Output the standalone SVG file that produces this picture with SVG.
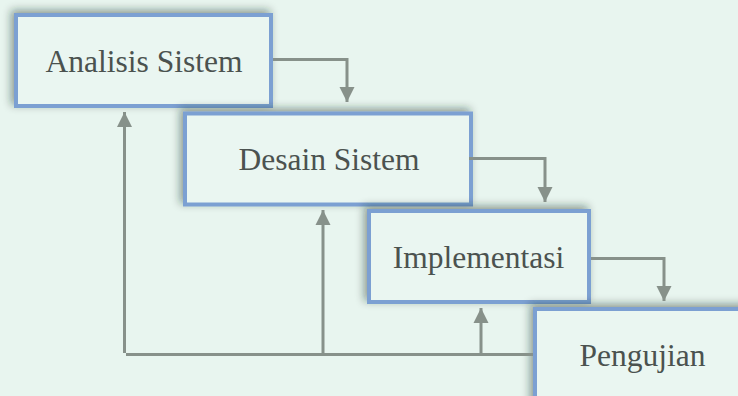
<svg xmlns="http://www.w3.org/2000/svg" width="738" height="396" viewBox="0 0 738 396">
  <defs>
    <filter id="soft-shadow" x="-15%" y="-30%" width="130%" height="160%">
      <feDropShadow dx="-3" dy="-3" stdDeviation="4.5" flood-color="#1e2a24" flood-opacity="0.45"/>
    </filter>
    <marker id="arrow" markerUnits="userSpaceOnUse" markerWidth="16" markerHeight="16" viewBox="0 0 16 16" refX="15" refY="8" orient="auto">
      <path d="M0,0.5 L15,8 L0,15.5 Z" fill="#87918a"/>
    </marker>
  </defs>
  <style>
    .box rect { fill: #eaf6f1; stroke: #7ca0d2; stroke-width: 4; filter: url(#soft-shadow); }
    .box text { font-family: "Liberation Serif", "Times New Roman", serif; font-size: 31.5px; fill: #4b524f; text-anchor: middle; }
    .link { fill: none; stroke: #87918a; stroke-width: 3; }
  </style>

  <!-- page background -->
  <rect x="0" y="0" width="738" height="396" fill="#e8f5ef"/>

  <!-- process stages, stepped like a waterfall -->
  <g id="analisis-sistem" class="box">
    <rect x="16" y="15" width="255" height="91"/>
    <text x="144" y="72">Analisis Sistem</text>
  </g>
  <g id="desain-sistem" class="box">
    <rect x="185" y="113.5" width="286" height="91"/>
    <text x="329" y="170">Desain Sistem</text>
  </g>
  <g id="implementasi" class="box">
    <rect x="369" y="211" width="220" height="91"/>
    <text x="478.5" y="268">Implementasi</text>
  </g>
  <g id="pengujian" class="box">
    <rect x="535" y="309" width="215" height="100"/>
    <text x="642.5" y="366">Pengujian</text>
  </g>

  <!-- connectors: forward steps and the feedback bus -->
  <g id="connectors">
    <path class="link" d="M273,59.5 H347 V102" marker-end="url(#arrow)"/>
    <path class="link" d="M469,158.5 H545 V202" marker-end="url(#arrow)"/>
    <path class="link" d="M591,258.5 H664 V301" marker-end="url(#arrow)"/>

    <path class="link" d="M533,354.5 H126"/>
    <path class="link" d="M124.5,353 V112" marker-end="url(#arrow)"/>
    <path class="link" d="M323,354 V210" marker-end="url(#arrow)"/>
    <path class="link" d="M481,354 V308" marker-end="url(#arrow)"/>
  </g>
</svg>
